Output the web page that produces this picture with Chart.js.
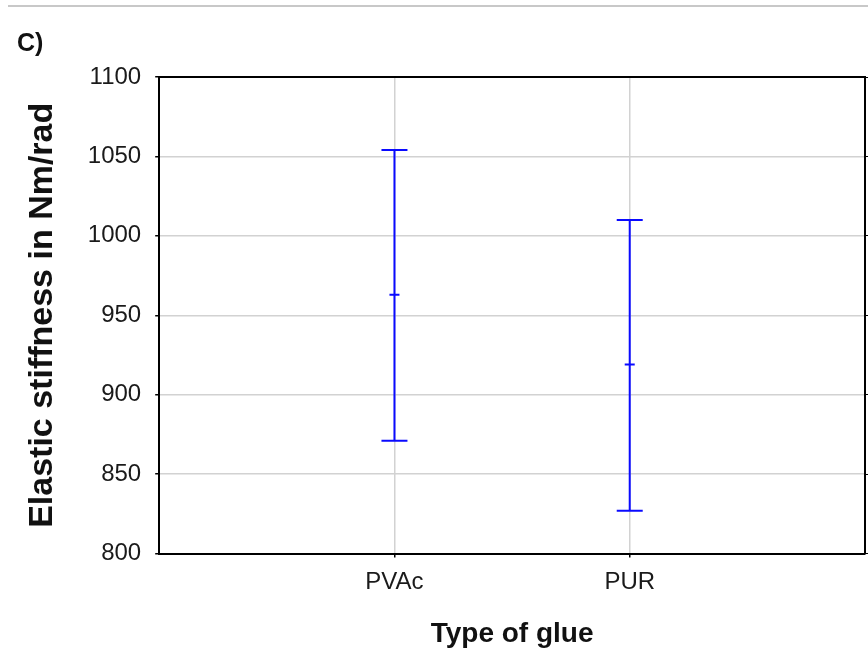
<!DOCTYPE html>
<html>
<head>
<meta charset="utf-8">
<script src="https://cdn.jsdelivr.net/npm/chart.js@4.4.1/dist/chart.umd.min.js"></script>
<style>
    body { margin: 0; background: #fff; overflow: hidden; }
    #wrap { position: relative; width: 868px; height: 661px; }
    #rule { position: absolute; top: 5px; left: 8px; right: 0; height: 2px; background: #c8c8c8; }
    canvas { display: block; }
</style>
</head>
<body>
<div id="wrap">
    <div id="rule"></div>
    <canvas id="chartCanvas" width="868" height="661"></canvas>
</div>
<script>
// mean and interval ends per glue type
const glueTypes = ['PVAc', 'PUR'];
const meanValues = [963, 919];
const lowerValues = [871, 827];
const upperValues = [1054, 1010];
const yTicks = [800, 850, 900, 950, 1000, 1050, 1100];

const BLUE = '#0a0aff';
const GRID = '#d2d2d2';
const TICK_FONT = { family: 'Liberation Sans, Arial, sans-serif', size: 24 };

// one dataset per whisker so the two bars are not joined
const whiskers = glueTypes.map((name, i) => ({
    label: name,
    data: [
        { x: i + 1, y: lowerValues[i] },
        { x: i + 1, y: upperValues[i] }
    ],
    showLine: true,
    borderColor: BLUE,
    borderWidth: 2,
    pointStyle: 'line',
    pointRadius: 13,
    pointBorderWidth: 2,
    pointBorderColor: BLUE
}));

const means = {
    label: 'mean',
    data: glueTypes.map((name, i) => ({ x: i + 1, y: meanValues[i] })),
    showLine: false,
    pointStyle: 'line',
    pointRadius: 5,
    pointBorderWidth: 2,
    pointBorderColor: BLUE
};

const ctx = document.getElementById('chartCanvas').getContext('2d');
new Chart(ctx, {
    type: 'scatter',
    data: { datasets: [...whiskers, means] },
    options: {
        responsive: false,
        animation: false,
        layout: {
            autoPadding: false,
            padding: { left: 17, right: 0, top: 0, bottom: 3 }
        },
        plugins: {
            legend: { display: false },
            tooltip: { enabled: false },
            title: {
                display: true,
                text: 'C)',
                align: 'start',
                color: '#111',
                font: { family: 'Liberation Sans, Arial, sans-serif', size: 25, weight: 'bold' },
                padding: { top: 29, bottom: 10 }
            }
        },
        scales: {
            x: {
                type: 'linear',
                min: 0,
                max: 3,
                afterBuildTicks: axis => {
                    axis.ticks = glueTypes.map((name, i) => ({ value: i + 1 }));
                },
                ticks: {
                    color: '#1a1a1a',
                    font: TICK_FONT,
                    padding: 10,
                    callback: value => glueTypes[value - 1]
                },
                grid: { color: GRID, lineWidth: 1.5, tickColor: '#000', tickLength: 4 },
                border: { color: '#000', width: 2 },
                title: {
                    display: true,
                    text: 'Type of glue',
                    color: '#111',
                    font: { family: 'Liberation Sans Narrow, Arial Narrow, Liberation Sans, sans-serif', size: 28, weight: 'bold' },
                    padding: { top: 11, bottom: 7 }
                }
            },
            xTop: {
                type: 'linear',
                position: 'top',
                min: 0,
                max: 3,
                grid: { display: false },
                ticks: { display: false },
                border: { color: '#000', width: 2 }
            },
            y: {
                min: 800,
                max: 1100,
                afterBuildTicks: axis => {
                    axis.ticks = yTicks.map(v => ({ value: v }));
                },
                ticks: { color: '#1a1a1a', font: TICK_FONT, padding: 14, callback: value => String(value) },
                grid: { color: GRID, lineWidth: 1.5, tickColor: '#000', tickLength: 4 },
                border: { color: '#000', width: 2 },
                title: {
                    display: true,
                    text: 'Elastic stiffness in Nm/rad',
                    color: '#111',
                    font: { family: 'Liberation Sans, Arial, sans-serif', size: 34, weight: 'bold' },
                    padding: { top: 5, bottom: 11 }
                }
            },
            yRight: {
                position: 'right',
                min: 800,
                max: 1100,
                afterBuildTicks: axis => {
                    axis.ticks = yTicks.map(v => ({ value: v }));
                },
                ticks: { display: false },
                grid: { drawOnChartArea: false, tickColor: '#000', tickLength: 3 },
                border: { color: '#000', width: 2 }
            }
        }
    }
});
</script>
</body>
</html>
